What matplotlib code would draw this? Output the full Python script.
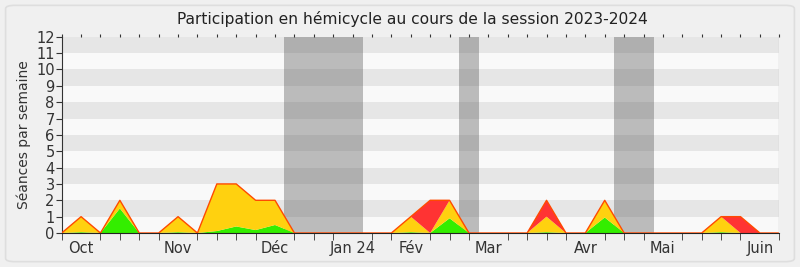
import matplotlib.pyplot as plt
from matplotlib.patches import FancyBboxPatch
import numpy as np

# weekly values (week index 0 .. 37)
weeks = list(range(38))
green = [0, 0.05, 0, 1.5, 0, 0, 0.05, 0, 0.12, 0.4, 0.18, 0.49, 0, 0, 0, 0, 0, 0,
         0.05, 0, 0.9, 0, 0, 0, 0, 0.05, 0, 0, 0.95, 0, 0, 0, 0, 0, 0.05, 0, 0, 0]
yellow = [0, 0.95, 0, 0.5, 0, 0, 0.95, 0, 2.88, 2.6, 1.82, 1.51, 0, 0, 0, 0, 0, 0,
          0.95, 0, 1.1, 0, 0, 0, 0, 0.95, 0, 0, 1.05, 0, 0, 0, 0, 0, 0.95, 0, 0, 0]
red = [0, 0, 0, 0, 0, 0, 0, 0, 0, 0, 0, 0, 0, 0, 0, 0, 0, 0,
       0, 2, 0, 0, 0, 0, 0, 1, 0, 0, 0, 0, 0, 0, 0, 0, 0, 1, 0, 0]

month_pos = [1, 6, 11, 15, 18, 22, 27, 31, 36]
month_labels = ['Oct', 'Nov', 'Déc', 'Jan 24', 'Fév', 'Mar', 'Avr', 'Mai', 'Juin']
vacations = [(11.46, 15.52), (20.48, 21.51), (28.48, 30.54)]

fig = plt.figure(figsize=(8, 2.67), dpi=100, facecolor='#f0f0f0')
fig.patches.append(FancyBboxPatch((0.007, 0.02), 0.986, 0.96, boxstyle='round,pad=0,rounding_size=0.012',
                                  transform=fig.transFigure, facecolor='none',
                                  edgecolor='#dedede', lw=1.2))
ax = fig.add_axes([0.0771, 0.1273, 0.897, 0.7352])
ax.set_facecolor('#f9f9f9')

for k in range(1, 12, 2):
    ax.axhspan(k, k + 1, color='#e6e6e6', lw=0, zorder=0)
for a, b in vacations:
    ax.axvspan(a, b, color='#3b3b3b', alpha=0.32, lw=0, zorder=1)

ax.stackplot(weeks, green, yellow, red, colors=['#33ee00', '#ffd10f', '#ff3333'],
             lw=0, zorder=2)
total = np.array(green) + np.array(yellow) + np.array(red)
ax.plot(weeks, total, color='#ff4a00', lw=1, zorder=3)

ax.set_xlim(0, 37)
ax.set_ylim(0, 12)
ax.set_yticks(range(13))
ax.tick_params(axis='y', length=4, labelsize=10.5, colors='#333333', pad=1)
ax.set_xticks(month_pos)
ax.set_xticklabels(month_labels)
ax.set_xticks([w for w in weeks if w not in month_pos], minor=True)
ax.tick_params(axis='x', which='major', length=0, labelsize=10.5, colors='#333333', pad=6)
ax.tick_params(axis='x', which='minor', length=5, color='#333333')

top = ax.secondary_xaxis('top')
top.set_xticks(weeks)
top.set_xticklabels([])
top.tick_params(length=2, color='#333333')
top.spines['top'].set_visible(False)

for s in ['top', 'right']:
    ax.spines[s].set_visible(False)
ax.spines['left'].set_color('#333333')
ax.spines['bottom'].set_color('#222222')
ax.axvline(37, color='#d0d0d0', lw=1, zorder=4)

ax.set_ylabel('Séances par semaine', fontsize=10, color='#333333', labelpad=4)
fig.text(0.516, 0.93, 'Participation en hémicycle au cours de la session 2023-2024',
         ha='center', va='center', fontsize=11.2, color='#222222')

fig.savefig('out.png', dpi=100, facecolor=fig.get_facecolor())
